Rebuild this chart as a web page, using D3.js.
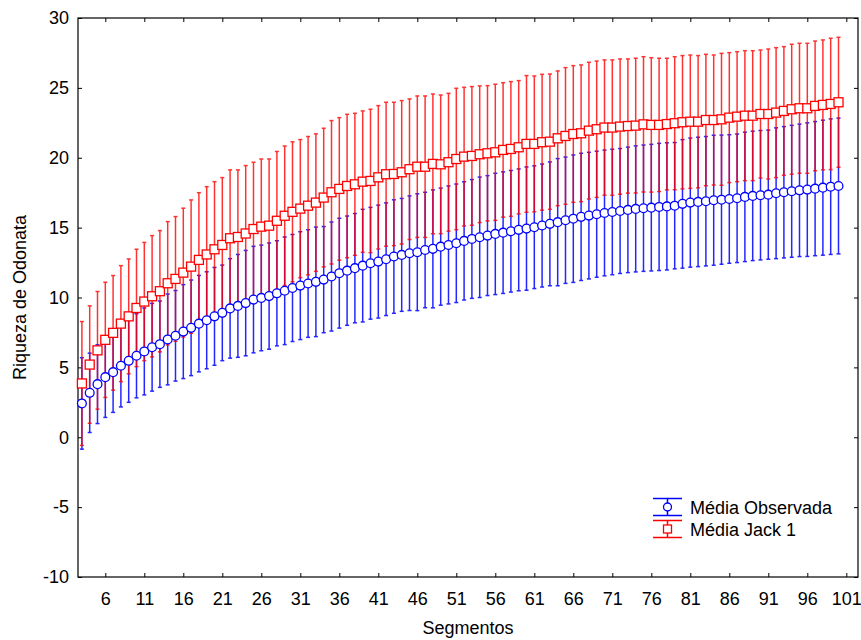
<!DOCTYPE html>
<meta charset="utf-8">
<style>
body {
  margin: 0;
  background: #fff;
  font-family: "Liberation Sans", Arial, sans-serif;
}
.tick text, .label, .legend text {
  font-family: "Liberation Sans", Arial, sans-serif;
  font-size: 18px;
  fill: #000;
}
</style>
<body>
<script src="https://cdn.jsdelivr.net/npm/d3@7"></script>
<script>

// segments 3..100 (categories on the x axis)
var segments = d3.range(3, 101);

// Média Observada: mean and SD
var obsMean = [2.42, 3.18, 3.8, 4.3, 4.66, 5.12, 5.47, 5.83, 6.14, 6.44, 6.66, 7.0, 7.26, 7.56, 7.83, 8.13, 8.37, 8.65, 8.9, 9.22,
  9.4, 9.6, 9.85, 9.97, 10.1, 10.3, 10.48, 10.68, 10.85, 11.0, 11.12, 11.28, 11.5, 11.74, 11.92, 12.1, 12.28, 12.45, 12.57, 12.74,
  12.93, 13.05, 13.17, 13.24, 13.4, 13.48, 13.64, 13.76, 13.88, 14.05, 14.19, 14.31, 14.43, 14.55, 14.64, 14.74, 14.84, 14.93, 15.03, 15.15,
  15.27, 15.39, 15.53, 15.64, 15.77, 15.86, 15.96, 16.05, 16.12, 16.19, 16.27, 16.34, 16.39, 16.43, 16.48, 16.52, 16.57, 16.7, 16.79, 16.84,
  16.89, 16.96, 17.0, 17.05, 17.1, 17.2, 17.27, 17.32, 17.36, 17.46, 17.53, 17.6, 17.67, 17.72, 17.79, 17.86, 17.93, 17.98];
var obsSD = [3.27, 2.84, 2.82, 2.88, 2.88, 2.95, 2.97, 3.01, 3.11, 3.14, 3.09, 3.25, 3.24, 3.36, 3.42, 3.45, 3.47, 3.5, 3.42, 3.56,
  3.68, 3.77, 3.81, 3.78, 3.8, 3.76, 3.85, 3.83, 3.86, 3.85, 3.92, 3.8, 3.9, 3.93, 3.91, 3.91, 4.03, 4.0, 4.04, 4.03,
  4.06, 4.04, 4.1, 4.18, 4.13, 4.22, 4.19, 4.22, 4.24, 4.23, 4.25, 4.31, 4.29, 4.34, 4.35, 4.35, 4.36, 4.41, 4.39, 4.4,
  4.43, 4.55, 4.52, 4.56, 4.55, 4.53, 4.51, 4.5, 4.49, 4.47, 4.49, 4.51, 4.52, 4.53, 4.55, 4.55, 4.52, 4.6, 4.62, 4.63,
  4.63, 4.65, 4.62, 4.6, 4.6, 4.63, 4.63, 4.63, 4.62, 4.68, 4.7, 4.72, 4.74, 4.78, 4.8, 4.83, 4.85, 4.86];

// Média Jack 1: mean and SD
var jackMean = [3.85, 5.2, 6.22, 6.97, 7.47, 8.13, 8.65, 9.25, 9.71, 10.09, 10.45, 11.02, 11.33, 11.78, 12.21, 12.69, 13.08, 13.45, 13.76, 14.24,
  14.33, 14.58, 14.9, 15.07, 15.14, 15.49, 15.85, 16.13, 16.36, 16.57, 16.79, 17.15, 17.53, 17.77, 17.98, 18.1, 18.29, 18.34, 18.6, 18.82,
  18.84, 18.96, 19.18, 19.36, 19.36, 19.56, 19.53, 19.68, 19.91, 20.08, 20.13, 20.25, 20.32, 20.39, 20.56, 20.63, 20.75, 20.99, 20.99, 21.11,
  21.15, 21.39, 21.56, 21.7, 21.75, 21.94, 22.04, 22.16, 22.16, 22.23, 22.27, 22.3, 22.39, 22.35, 22.35, 22.41, 22.47, 22.54, 22.58, 22.58,
  22.7, 22.7, 22.75, 22.87, 22.94, 23.01, 23.01, 23.13, 23.13, 23.23, 23.35, 23.47, 23.54, 23.54, 23.71, 23.78, 23.85, 23.97];
var jackSD = [4.43, 4.2, 4.21, 4.12, 4.1, 4.15, 4.11, 4.2, 4.23, 4.34, 4.34, 4.41, 4.46, 4.61, 4.77, 4.81, 4.85, 4.84, 4.82, 4.89,
  4.8, 4.86, 4.78, 4.84, 4.77, 4.96, 4.99, 5.01, 4.94, 4.95, 4.92, 4.96, 5.13, 5.1, 5.13, 5.08, 5.06, 5.13, 5.13, 5.15,
  5.13, 5.13, 5.03, 5.06, 5.06, 5.0, 4.96, 4.93, 5.06, 4.96, 4.96, 4.89, 4.84, 4.87, 4.81, 4.82, 4.77, 4.89, 4.86, 4.86,
  4.84, 4.82, 4.89, 4.89, 4.89, 4.89, 4.88, 4.84, 4.84, 4.84, 4.8, 4.82, 4.84, 4.81, 4.77, 4.71, 4.76, 4.77, 4.77, 4.73,
  4.7, 4.65, 4.72, 4.65, 4.65, 4.65, 4.65, 4.58, 4.65, 4.65, 4.6, 4.65, 4.65, 4.65, 4.64, 4.65, 4.7, 4.65];

var xTicks = [6, 11, 16, 21, 26, 31, 36, 41, 46, 51, 56, 61, 66, 71, 76, 81, 86, 91, 96, 101];
var yTicks = [-10, -5, 0, 5, 10, 15, 20, 25, 30];
var seriesNames = ["Média Observada", "Média Jack 1"];

var W = 861, H = 640,
    margin = {top: 18, right: 3, bottom: 63, left: 78},
    width = W - margin.left - margin.right,
    height = H - margin.top - margin.bottom;

var blue = "#0000ff", red = "#ff0000";

var svg = d3.select("body").append("svg")
    .attr("width", W)
    .attr("height", H)
  .append("g")
    .attr("transform", "translate(" + margin.left + "," + margin.top + ")");

var x = d3.scaleLinear().domain([2.5, 102.5]).range([0, width]),
    y = d3.scaleLinear().domain([-10, 30]).range([height, 0]);

function rows(mean, sd) {
  return segments.map(function(s, i) { return {seg: s, m: mean[i], sd: sd[i]}; });
}
var obs = rows(obsMean, obsSD),
    jack = rows(jackMean, jackSD);

// axes: ticks inside on all four sides, plain hyphen for negatives
function styleAxis(g) {
  g.select(".domain").remove();
  g.selectAll(".tick line").attr("stroke", "#000");
}
svg.append("g")
    .attr("transform", "translate(0," + height + ")")
    .call(d3.axisBottom(x).tickValues(xTicks).tickSizeInner(-4).tickSizeOuter(0).tickPadding(15).tickFormat(String))
    .call(styleAxis);
svg.append("g")
    .call(d3.axisTop(x).tickValues(xTicks).tickSizeInner(-4).tickSizeOuter(0).tickFormat(""))
    .call(styleAxis);
svg.append("g")
    .call(d3.axisLeft(y).tickValues(yTicks).tickSizeInner(-4).tickSizeOuter(0).tickPadding(9).tickFormat(String))
    .call(styleAxis);
svg.append("g")
    .attr("transform", "translate(" + width + ",0)")
    .call(d3.axisRight(y).tickValues(yTicks).tickSizeInner(-4).tickSizeOuter(0).tickFormat(""))
    .call(styleAxis);

svg.append("rect")
    .attr("width", width)
    .attr("height", height)
    .attr("fill", "none")
    .attr("stroke", "#000")
    .attr("stroke-width", 1.2);

function whiskers(data, color, opacity) {
  var g = svg.append("g").attr("stroke", color).attr("stroke-width", 1.5).attr("opacity", opacity);
  g.selectAll("line.v").data(data).enter().append("line")
      .attr("x1", function(d) { return x(d.seg); })
      .attr("x2", function(d) { return x(d.seg); })
      .attr("y1", function(d) { return y(d.m - d.sd); })
      .attr("y2", function(d) { return y(d.m + d.sd); });
  [-1, 1].forEach(function(k) {
    g.selectAll(null).data(data).enter().append("line")
        .attr("x1", function(d) { return x(d.seg) - 2; })
        .attr("x2", function(d) { return x(d.seg) + 2; })
        .attr("y1", function(d) { return y(d.m + k * d.sd); })
        .attr("y2", function(d) { return y(d.m + k * d.sd); });
  });
}

whiskers(obs, blue, 0.85);
whiskers(jack, red, 0.8);

svg.append("g").selectAll("circle")
    .data(obs).enter().append("circle")
    .attr("cx", function(d) { return x(d.seg); })
    .attr("cy", function(d) { return y(d.m); })
    .attr("r", 4.4)
    .attr("fill", "#fff")
    .attr("stroke", blue)
    .attr("stroke-width", 1.3);

svg.append("g").selectAll("rect")
    .data(jack).enter().append("rect")
    .attr("x", function(d) { return x(d.seg) - 4.5; })
    .attr("y", function(d) { return y(d.m) - 4.5; })
    .attr("width", 9)
    .attr("height", 9)
    .attr("fill", "#fff")
    .attr("stroke", red)
    .attr("stroke-width", 1.3);

// axis titles
svg.append("text")
    .attr("class", "label")
    .attr("x", width / 2)
    .attr("y", height + 57)
    .attr("text-anchor", "middle")
    .text("Segmentos");
svg.append("text")
    .attr("class", "label")
    .attr("transform", "translate(-52.5," + (height / 2) + ") rotate(-90)")
    .attr("text-anchor", "middle")
    .text("Riqueza de Odonata");

// legend
var legend = svg.selectAll(".legend")
    .data(seriesNames)
  .enter().append("g")
    .attr("class", "legend")
    .attr("transform", function(d, i) { return "translate(" + (width - 205) + "," + (height - 70 + i * 22) + ")"; });

legend.each(function(d, i) {
  var g = d3.select(this), c = i ? red : blue;
  g.append("line").attr("x1", 0).attr("x2", 29).attr("y1", -8.5).attr("y2", -8.5).attr("stroke", c).attr("stroke-width", 1.5);
  g.append("line").attr("x1", 0).attr("x2", 29).attr("y1", 8.5).attr("y2", 8.5).attr("stroke", c).attr("stroke-width", 1.5);
  g.append("line").attr("x1", 14.5).attr("x2", 14.5).attr("y1", -8.5).attr("y2", 8.5).attr("stroke", c).attr("stroke-width", 1.5);
  if (i) {
    g.append("rect").attr("x", 10.5).attr("y", -4).attr("width", 8).attr("height", 8)
        .attr("fill", "#fff").attr("stroke", c).attr("stroke-width", 1.3);
  } else {
    g.append("circle").attr("cx", 14.5).attr("cy", 0).attr("r", 4)
        .attr("fill", "#fff").attr("stroke", c).attr("stroke-width", 1.3);
  }
  g.append("text").attr("x", 37).attr("y", 6.5).text(d);
});

</script>
